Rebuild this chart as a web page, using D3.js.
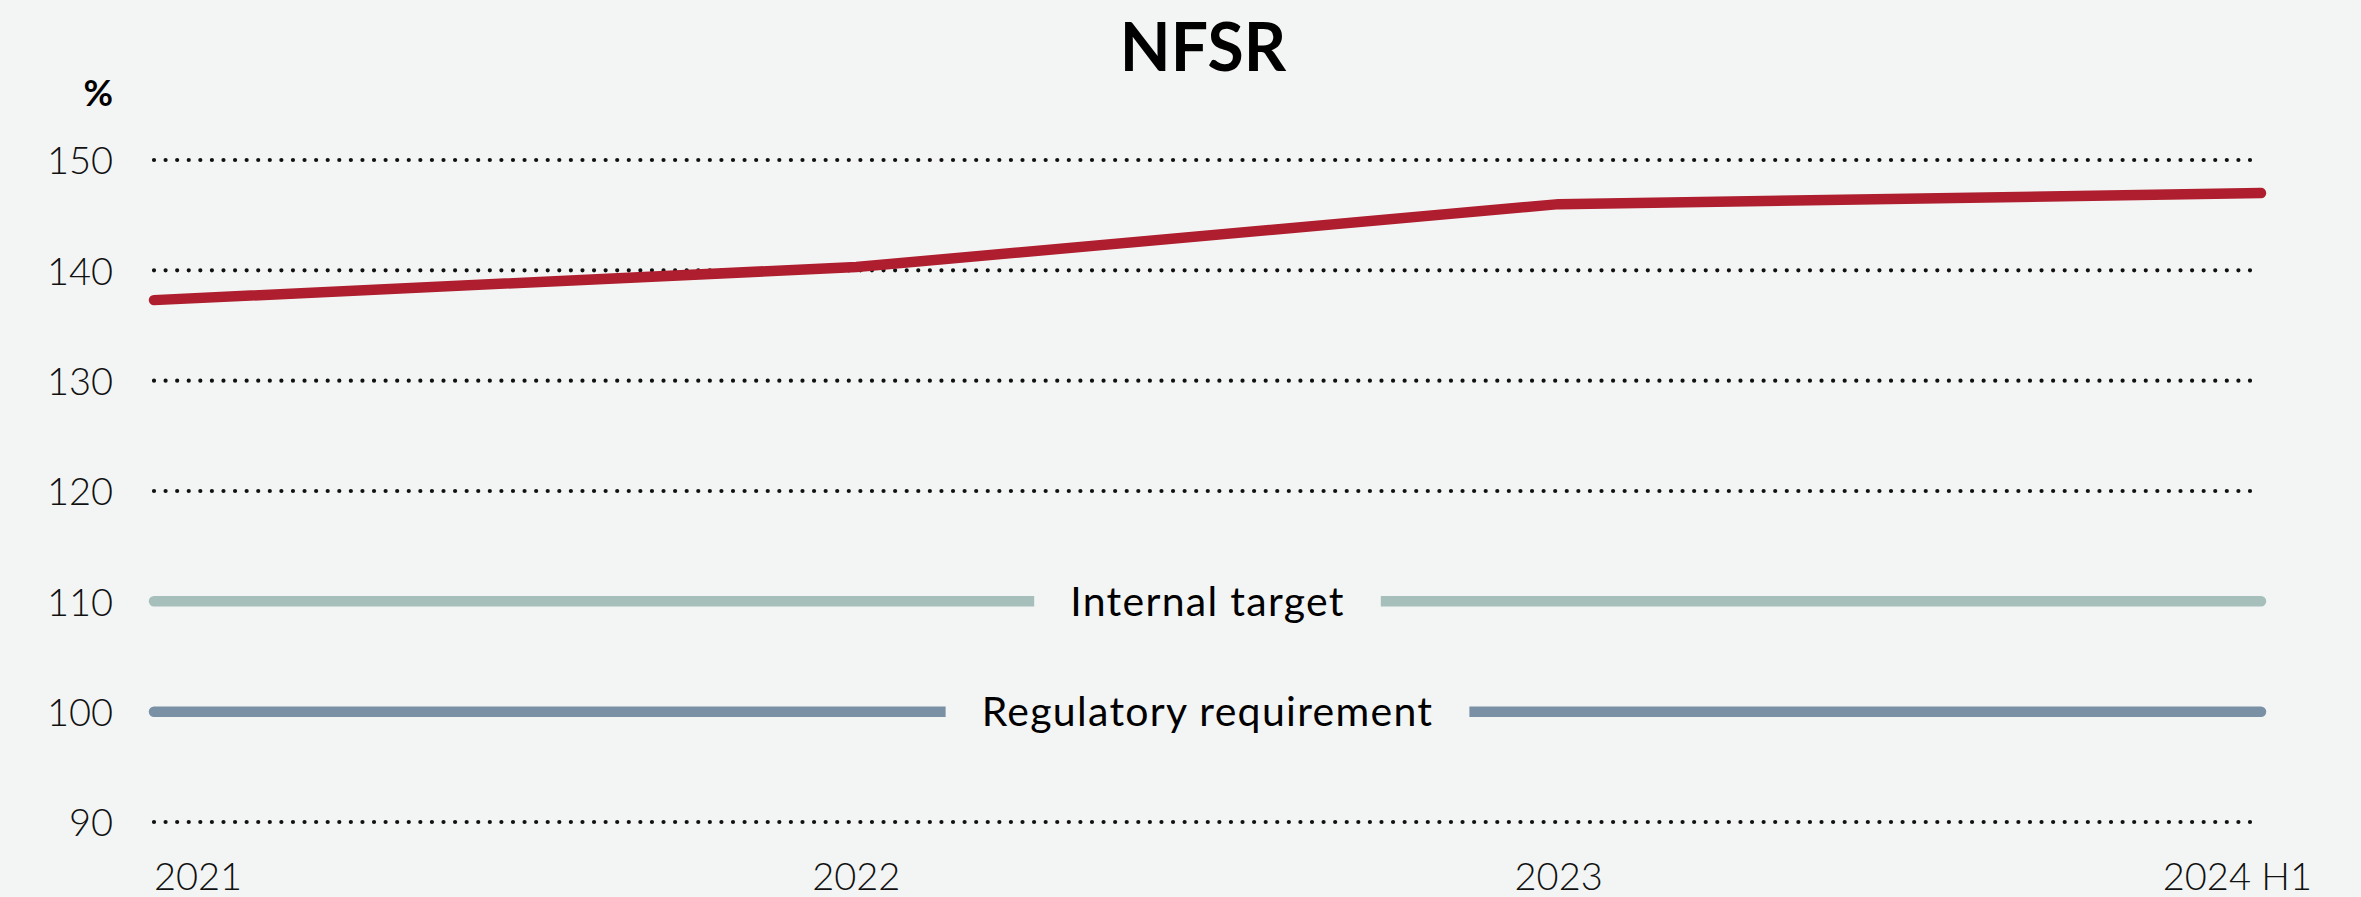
<!DOCTYPE html>
<html>
<head>
<meta charset="utf-8">
<script src="https://cdn.jsdelivr.net/npm/d3@7"></script>
<style>
  html, body { margin: 0; padding: 0; background: #f3f5f4; }
  svg { display: block; }
</style>
</head>
<body>
<svg id="chart" width="2361" height="897"></svg>
<script>
// ---- Data ----
const categories = ["2021", "2022", "2023", "2024 H1"];
const nfsrValues = [137.3, 140.3, 146.0, 147.0];
const yTicks = [90, 100, 110, 120, 130, 140, 150];
const gridTicks = [90, 120, 130, 140, 150];
const refLines = [
  { label: "Internal target", value: 110, color: "#a6bfba" },
  { label: "Regulatory requirement", value: 100, color: "#7a90a4" }
];
const title = "NFSR";
const unitLabel = "%";

// ---- Layout ----
const W = 2361, H = 897;
const svg = d3.select("#chart");
svg.append("rect").attr("width", W).attr("height", H).attr("fill", "#f3f5f4");

const x = d3.scalePoint().domain(categories).range([154, 2261]);
const y = d3.scaleLinear().domain([90, 150]).range([822, 160]);

const FONT = "Lato, 'Open Sans', 'DejaVu Sans', sans-serif";

// Title
svg.append("text")
  .attr("x", 1203).attr("y", 71)
  .attr("text-anchor", "middle")
  .attr("font-family", FONT).attr("font-weight", 700)
  .attr("font-size", 66).attr("fill", "#000")
  .text(title);

// Unit
svg.append("text")
  .attr("x", 113).attr("y", 106)
  .attr("text-anchor", "end")
  .attr("font-family", FONT).attr("font-weight", 700)
  .attr("font-size", 36).attr("fill", "#000")
  .text(unitLabel);

// Y axis tick labels via d3 axis
const yAxis = d3.axisLeft(y).tickValues(yTicks).tickSize(0).tickPadding(0).tickFormat(d3.format("d"));
const yg = svg.append("g").attr("transform", "translate(113,0)").call(yAxis);
yg.select(".domain").remove();
yg.selectAll("text")
  .attr("font-family", FONT).attr("font-weight", 300)
  .attr("font-size", 38).attr("fill", "#111")
  .attr("dy", "0.36em");

// Dotted gridlines
svg.append("g").selectAll("line")
  .data(gridTicks).join("line")
  .attr("x1", x(categories[0])).attr("x2", x(categories[categories.length - 1]))
  .attr("y1", d => y(d)).attr("y2", d => y(d))
  .attr("stroke", "#111").attr("stroke-width", 4.2)
  .attr("stroke-linecap", "round")
  .attr("stroke-dasharray", "0.01 11.57");

// Reference lines with label gap
const refG = svg.append("g");
refLines.forEach(r => {
  const yy = y(r.value);
  refG.append("line")
    .attr("x1", x(categories[0])).attr("x2", x(categories[categories.length - 1]))
    .attr("y1", yy).attr("y2", yy)
    .attr("stroke", r.color).attr("stroke-width", 10.5)
    .attr("stroke-linecap", "round");
  const cx = (x(categories[0]) + x(categories[categories.length - 1])) / 2;
  const txt = refG.append("text")
    .attr("x", cx).attr("y", yy)
    .attr("dy", "0.36em")
    .attr("text-anchor", "middle")
    .attr("font-family", FONT).attr("font-weight", 400)
    .attr("font-size", 41).attr("fill", "#000")
    .attr("letter-spacing", 1.3)
    .text(r.label);
  const bb = txt.node().getBBox();
  refG.insert("rect", () => txt.node())
    .attr("x", bb.x - 36).attr("width", bb.width + 72)
    .attr("y", yy - 8).attr("height", 16)
    .attr("fill", "#f3f5f4");
});

// NFSR line
const line = d3.line()
  .x((d, i) => x(categories[i]))
  .y(d => y(d));
svg.append("path")
  .datum(nfsrValues)
  .attr("d", line)
  .attr("fill", "none")
  .attr("stroke", "#ae1e2e")
  .attr("stroke-width", 10.5)
  .attr("stroke-linecap", "round")
  .attr("stroke-linejoin", "round");

// X axis labels
const xg = svg.append("g");
xg.selectAll("text")
  .data(categories).join("text")
  .attr("x", (d, i) => i === 0 ? x(d) : (i === categories.length - 1 ? x(d) + 51 : x(d)))
  .attr("y", 890)
  .attr("text-anchor", (d, i) => i === 0 ? "start" : (i === categories.length - 1 ? "end" : "middle"))
  .attr("font-family", FONT).attr("font-weight", 300)
  .attr("font-size", 38).attr("fill", "#111")
  .text(d => d);
</script>
</body>
</html>
